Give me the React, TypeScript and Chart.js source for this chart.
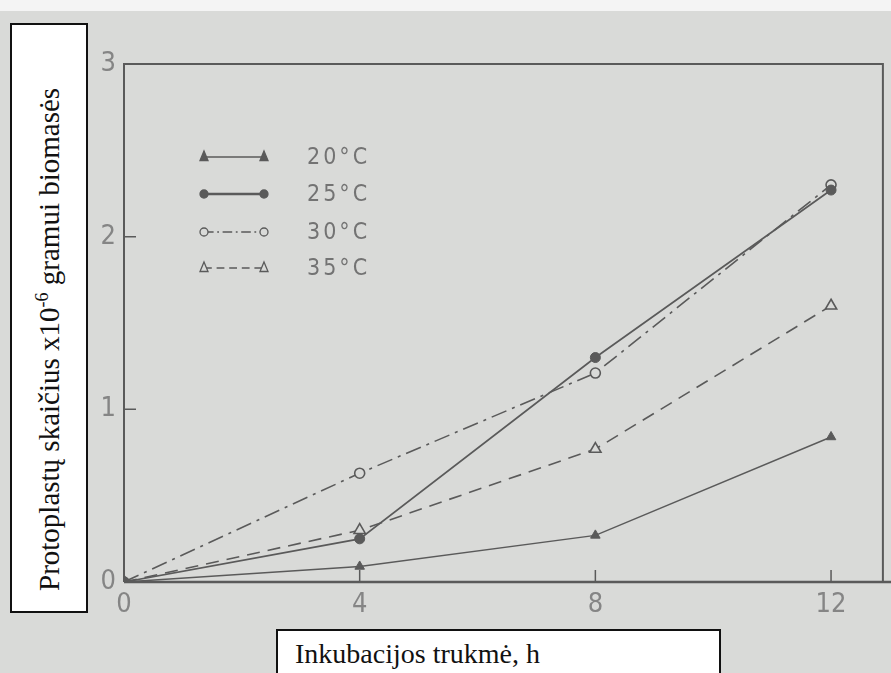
import React, { useEffect, useRef } from 'react';
import { Chart, registerables } from 'chart.js';

Chart.register(...registerables);

// ---- data ----
const hours = [0, 4, 8, 12];
const xTickValues = [0, 4, 8, 12];
const yTickValues = [0, 1, 2, 3];
const seriesLabels = ['20°C', '25°C', '30°C', '35°C'];
const t20 = [0, 0.09, 0.27, 0.84];
const t25 = [0, 0.25, 1.3, 2.27];
const t30 = [0, 0.63, 1.21, 2.3];
const t35 = [0, 0.3, 0.77, 1.6];
const yAxisTitle = 'Protoplastų skaičius x10';
const yAxisTitleSup = '-6';
const yAxisTitleTail = ' gramui biomasės';
const xAxisTitle = 'Inkubacijos trukmė, h';

const BG = '#d9dad8';
const INK = '#5a5a5a';
const LABEL = '#858585';
const TICK_FONT = "'Liberation Sans Narrow', 'DejaVu Sans Condensed', 'Arial Narrow', sans-serif";

export default function App() {
  const ref = useRef<HTMLCanvasElement | null>(null);

  useEffect(() => {
    if (!ref.current) return;
    const toPts = (arr: number[]) => arr.map((y, i) => ({ x: hours[i], y }));

    const datasets: any[] = [
      {
        label: seriesLabels[0], data: toPts(t20), borderColor: INK, borderWidth: 1.5,
        pointStyle: 'triangle', pointRadius: 5.5, pointBackgroundColor: INK, pointBorderColor: INK, pointBorderWidth: 1,
      },
      {
        label: seriesLabels[1], data: toPts(t25), borderColor: INK, borderWidth: 1.7,
        pointStyle: 'circle', pointRadius: 5, pointBackgroundColor: INK, pointBorderColor: INK, pointBorderWidth: 1,
      },
      {
        label: seriesLabels[2], data: toPts(t30), borderColor: INK, borderWidth: 1.6, borderDash: [16, 6, 3, 6],
        pointStyle: 'circle', pointRadius: 5, pointBackgroundColor: BG, pointBorderColor: INK, pointBorderWidth: 1.6,
      },
      {
        label: seriesLabels[3], data: toPts(t35), borderColor: INK, borderWidth: 1.6, borderDash: [13, 8],
        pointStyle: 'triangle', pointRadius: 6.5, pointBackgroundColor: BG, pointBorderColor: INK, pointBorderWidth: 1.6,
      },
    ];

    const bgPlugin = {
      id: 'bg',
      beforeDraw(chart: any) {
        const { ctx, width, height } = chart;
        ctx.save();
        ctx.fillStyle = BG;
        ctx.fillRect(0, 0, width, height);
        ctx.fillStyle = '#f4f4f4';
        ctx.fillRect(0, 0, width, 11);
        ctx.restore();
      },
      beforeDatasetsDraw(chart: any) {
        const { ctx, chartArea: a, scales } = chart;
        ctx.save();
        ctx.lineCap = 'butt';
        ctx.strokeStyle = INK;
        ctx.lineWidth = 2;
        ctx.beginPath();
        ctx.moveTo(a.left, a.bottom);
        ctx.lineTo(a.left, a.top);
        ctx.lineTo(a.right, a.top);
        ctx.lineTo(a.right, a.bottom);
        ctx.stroke();
        ctx.lineWidth = 2.5;
        ctx.beginPath();
        ctx.moveTo(a.left, a.bottom);
        ctx.lineTo(chart.width, a.bottom);
        ctx.stroke();
        ctx.lineWidth = 1.5;
        ctx.beginPath();
        for (const v of yTickValues) {
          if (v === 0 || v === 3) continue;
          const y = scales.y.getPixelForValue(v);
          ctx.moveTo(a.left, y);
          ctx.lineTo(a.left + 12, y);
        }
        for (const v of xTickValues) {
          if (v === 0) continue;
          const x = scales.x.getPixelForValue(v);
          ctx.moveTo(x, a.bottom);
          ctx.lineTo(x, a.bottom - 12);
        }
        ctx.stroke();
        ctx.restore();
      },
      afterDraw(chart: any) {
        const { ctx } = chart;
        const rows = [157, 194, 232, 268];
        const x1 = 204, x2 = 264, tx = 307;
        ctx.save();
        chart.data.datasets.forEach((ds: any, i: number) => {
          const y = rows[i];
          ctx.strokeStyle = INK;
          ctx.lineWidth = i === 1 ? 2.4 : 1.4;
          ctx.setLineDash(ds.borderDash ? ds.borderDash.map((d: number) => d * 0.6) : []);
          ctx.beginPath();
          ctx.moveTo(x1, y);
          ctx.lineTo(x2, y);
          ctx.stroke();
          ctx.setLineDash([]);
          for (const px of [x1, x2]) {
            ctx.beginPath();
            if (ds.pointStyle === 'triangle') {
              const r = 5;
              ctx.moveTo(px, y - r - 1);
              ctx.lineTo(px + r * 0.8, y + r * 0.7);
              ctx.lineTo(px - r * 0.8, y + r * 0.7);
              ctx.closePath();
            } else {
              ctx.arc(px, y, 4, 0, Math.PI * 2);
            }
            ctx.fillStyle = ds.pointBackgroundColor;
            ctx.fill();
            ctx.lineWidth = 1.3;
            ctx.strokeStyle = INK;
            ctx.stroke();
          }
          ctx.fillStyle = '#737373';
          ctx.font = `23px ${TICK_FONT}`;
          (ctx as any).letterSpacing = '3px';
          ctx.textBaseline = 'middle';
          ctx.textAlign = 'left';
          ctx.fillText(ds.label, tx, y + 1);
        });
        ctx.restore();
      },
    };

    const chart = new Chart(ref.current, {
      type: 'line',
      data: { datasets },
      options: {
        responsive: false,
        devicePixelRatio: 1,
        animation: false,
        layout: { padding: { top: 64, right: 3, left: 0, bottom: 0 } },
        plugins: { legend: { display: false }, tooltip: { enabled: false } },
        scales: {
          x: {
            type: 'linear',
            min: 0,
            max: 12.88,
            afterBuildTicks: (s: any) => { s.ticks = xTickValues.map((v) => ({ value: v })); },
            afterFit: (s: any) => { s.height = 91; },
            grid: { display: false, drawTicks: false },
            border: { display: false },
            ticks: {
              color: LABEL, padding: 7, maxRotation: 0, autoSkip: false,
              font: { family: TICK_FONT, size: 27 },
            },
          },
          y: {
            type: 'linear',
            min: 0,
            max: 3,
            afterBuildTicks: (s: any) => { s.ticks = yTickValues.map((v) => ({ value: v })); },
            afterFit: (s: any) => { s.width = 124; },
            grid: { display: false, drawTicks: false },
            border: { display: false },
            ticks: {
              color: LABEL, padding: 8, autoSkip: false,
              font: { family: TICK_FONT, size: 27 },
            },
          },
        },
      } as any,
      plugins: [bgPlugin],
    });
    return () => chart.destroy();
  }, []);

  return (
    <div style={{ position: 'absolute', left: 0, top: 0, width: 891, height: 673, overflow: 'hidden', background: BG }}>
      <canvas ref={ref} width={891} height={673} style={{ position: 'absolute', left: 0, top: 0, width: 891, height: 673 }} />
      <div style={{
        position: 'absolute', left: 10, top: 23, width: 78, height: 590, boxSizing: 'border-box',
        border: '2px solid #111', background: '#fff',
      }}>
        <div style={{
          position: 'absolute', left: (74 - 586) / 2, top: (586 - 74) / 2, width: 586, height: 74,
          transform: 'rotate(-90deg)', lineHeight: '74px', paddingLeft: 20, boxSizing: 'border-box',
          fontFamily: "'Liberation Serif', 'Times New Roman', serif", fontSize: 29, color: '#111', whiteSpace: 'nowrap',
        }}>
          {yAxisTitle}<sup style={{ fontSize: 18, lineHeight: 0 }}>{yAxisTitleSup}</sup>{yAxisTitleTail}
        </div>
      </div>
      <div style={{
        position: 'absolute', left: 276, top: 629, width: 445, height: 70, boxSizing: 'border-box',
        border: '2px solid #111', background: '#fff',
      }}>
        <div style={{
          position: 'absolute', left: 17, top: 7, lineHeight: '31px', whiteSpace: 'nowrap',
          fontFamily: "'Liberation Serif', 'Times New Roman', serif", fontSize: 28, color: '#111',
        }}>
          {xAxisTitle}
        </div>
      </div>
    </div>
  );
}
